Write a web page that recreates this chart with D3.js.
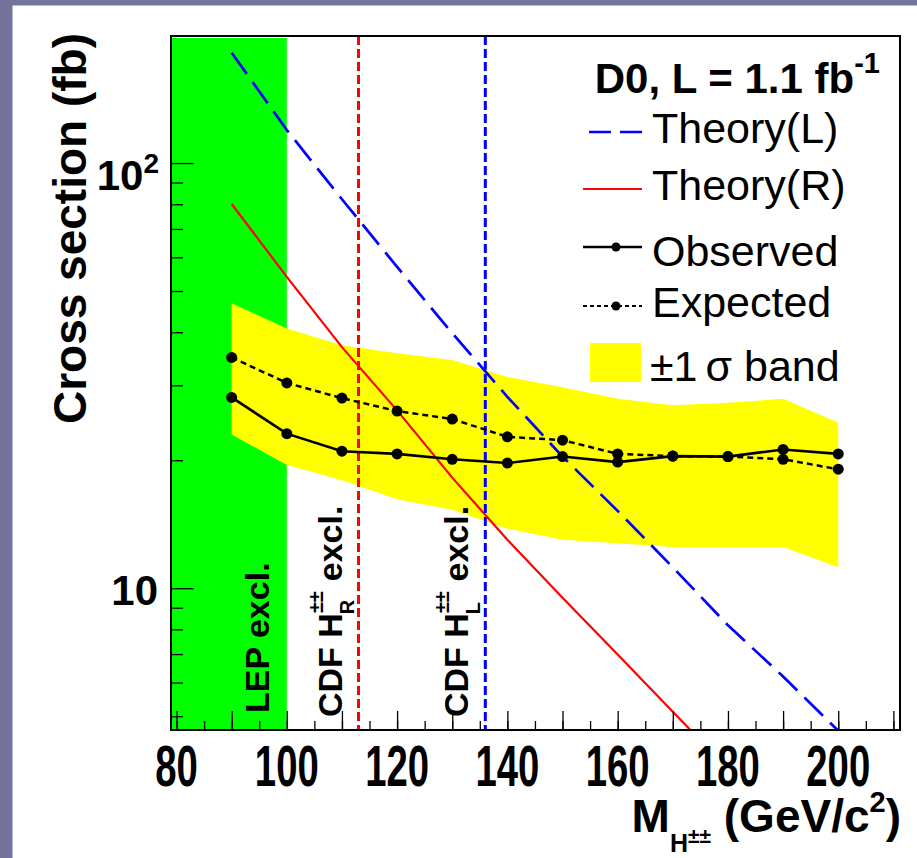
<!DOCTYPE html>
<html>
<head>
<meta charset="utf-8">
<script src="https://cdn.jsdelivr.net/npm/d3@7"></script>
<style>
  body { margin: 0; background: #fff; }
  svg { display: block; font-family: "Liberation Sans", Arial, Helvetica, sans-serif; }
</style>
</head>
<body>
<svg id="chart" width="917" height="858"></svg>
<script>
// mass points (GeV/c^2)
const mass = [90, 100, 110, 120, 130, 140, 150, 160, 170, 180, 190, 200];

// limits (fb)
const observed = [28.1, 23.1, 21.0, 20.7, 20.1, 19.7, 20.4, 19.8, 20.45, 20.4, 21.2, 20.7];
const expected = [34.9, 30.4, 28.0, 26.1, 25.0, 22.7, 22.3, 20.7, 20.45, 20.4, 20.1, 19.05];
const bandUp   = [46.8, 40.8, 37.3, 35.7, 34.4, 31.4, 29.7, 27.9, 26.95, 27.3, 27.9, 24.5];
const bandDown = [23.0, 19.5, 17.95, 16.2, 15.3, 13.8, 13.0, 12.75, 12.5, 12.5, 12.5, 11.2];

// theory curves
const theoryMass = [90, 100, 110, 120, 130, 140, 150, 160, 170, 180, 190, 200];
const theoryL = [181.8, 119.6, 82.2, 57.0, 39.8, 28.2, 20.4, 15.2, 11.2, 8.18, 6.2, 4.62];
const theoryR = [80.1, 54.0, 36.9, 26.2, 18.2, 13.0, 9.5, 6.98, 5.12, 3.76];

// exclusion limits
const lepLimit = 100;
const cdfR = 113;
const cdfL = 136;

// axis ticks
const xLabels = [80, 100, 120, 140, 160, 180, 200];
const xMajor = d3.range(80, 211, 10);
const xMinor = d3.range(80, 211, 5);
const yMajor = [10, 100];
const yMinor = [5, 6, 7, 8, 9, 20, 30, 40, 50, 60, 70, 80, 90];

const svg = d3.select("#chart");

// purple page frame
svg.append("rect").attr("x", 0).attr("y", 0).attr("width", 917).attr("height", 858).attr("fill", "#fff");
svg.append("rect").attr("x", 0).attr("y", 0).attr("width", 12.5).attr("height", 858).attr("fill", "#74739b");
svg.append("rect").attr("x", 0).attr("y", 0).attr("width", 917).attr("height", 5.5).attr("fill", "#74739b");

const frame = { left: 171, right: 900, top: 36, bottom: 730 };

const x = d3.scaleLinear().domain([79, 211.2]).range([frame.left, frame.right]);
const y = d3.scaleLog().domain([4.64, 199]).range([frame.bottom, frame.top]);

svg.append("clipPath").attr("id", "plot-clip")
  .append("rect")
  .attr("x", frame.left).attr("y", frame.top)
  .attr("width", frame.right - frame.left).attr("height", frame.bottom - frame.top);

const plot = svg.append("g").attr("clip-path", "url(#plot-clip)");

// LEP excluded region
plot.append("rect")
  .attr("x", x(79)).attr("y", frame.top + 2)
  .attr("width", x(lepLimit) - x(79)).attr("height", frame.bottom - frame.top - 3)
  .attr("fill", "#00ff00");

// +-1 sigma band
const bandData = mass.map((m, i) => ({ m, lo: bandDown[i], hi: bandUp[i] }));
plot.append("path")
  .datum(bandData)
  .attr("fill", "#ffff00")
  .attr("d", d3.area().x(d => x(d.m)).y0(d => y(d.lo)).y1(d => y(d.hi)));

// theory curves
const theoryLine = d3.line().x(d => x(d[0])).y(d => y(d[1]));
plot.append("path")
  .datum(d3.zip(theoryMass, theoryR))
  .attr("fill", "none").attr("stroke", "#ff0000").attr("stroke-width", 2.2)
  .attr("d", theoryLine);
plot.append("path")
  .datum(d3.zip(theoryMass, theoryL))
  .attr("fill", "none").attr("stroke", "#0000ff").attr("stroke-width", 2.7)
  .attr("stroke-dasharray", "26,10")
  .attr("d", theoryLine);

// CDF limits
[[cdfR, "#ff0000"], [cdfL, "#0000ff"]].forEach(([m, c]) => {
  plot.append("line")
    .attr("x1", x(m)).attr("x2", x(m))
    .attr("y1", frame.top).attr("y2", frame.bottom)
    .attr("stroke", c).attr("stroke-width", 3)
    .attr("stroke-dasharray", "9,4");
});

// expected and observed
const limitLine = d3.line().x(d => x(d[0])).y(d => y(d[1]));
plot.append("path")
  .datum(d3.zip(mass, expected))
  .attr("fill", "none").attr("stroke", "#000").attr("stroke-width", 2.5)
  .attr("stroke-dasharray", "6,4")
  .attr("d", limitLine);
plot.append("path")
  .datum(d3.zip(mass, observed))
  .attr("fill", "none").attr("stroke", "#000").attr("stroke-width", 2.6)
  .attr("d", limitLine);
plot.selectAll(".exp-pt").data(d3.zip(mass, expected)).enter()
  .append("circle").attr("class", "exp-pt")
  .attr("cx", d => x(d[0])).attr("cy", d => y(d[1])).attr("r", 5.5).attr("fill", "#000");
plot.selectAll(".obs-pt").data(d3.zip(mass, observed)).enter()
  .append("circle").attr("class", "obs-pt")
  .attr("cx", d => x(d[0])).attr("cy", d => y(d[1])).attr("r", 5.5).attr("fill", "#000");

// rotated labels in the plot
function vertLabel(px, py, parts) {
  const t = svg.append("text")
    .attr("transform", `translate(${px},${py}) rotate(-90)`)
    .attr("font-size", 34).attr("font-weight", "bold").attr("fill", "#000");
  parts.forEach(p => {
    const s = t.append("tspan").text(p.text);
    if (p.size) s.attr("font-size", p.size);
    if (p.dx) s.attr("dx", p.dx);
    if (p.dy) s.attr("dy", p.dy);
  });
}
vertLabel(269, 713, [{ text: "LEP excl." }]);
vertLabel(342, 717, [
  { text: "CDF H" },
  { text: "±±", size: 20, dy: -19 },
  { text: "R", size: 20, dx: -23, dy: 31 },
  { text: " excl.", dx: 9, dy: -12 }
]);
vertLabel(468, 717, [
  { text: "CDF H" },
  { text: "±±", size: 20, dy: -19 },
  { text: "L", size: 20, dx: -23, dy: 31 },
  { text: " excl.", dx: 11, dy: -12 }
]);

// axes: ticks point inward
const axes = svg.append("g");
axes.append("g").attr("transform", `translate(0,${frame.bottom})`)
  .call(d3.axisBottom(x).tickValues(xMinor).tickSize(-9).tickFormat(""));
axes.append("g").attr("transform", `translate(0,${frame.bottom})`)
  .call(d3.axisBottom(x).tickValues(xMajor).tickSize(-19).tickFormat(""));
axes.append("g").attr("transform", `translate(${frame.left},0)`)
  .call(d3.axisLeft(y).tickValues(yMinor).tickSize(-12).tickFormat(""));
axes.append("g").attr("transform", `translate(${frame.left},0)`)
  .call(d3.axisLeft(y).tickValues(yMajor).tickSize(-23).tickFormat(""));
axes.selectAll(".domain").remove();
axes.selectAll(".tick line").attr("stroke", "#000").attr("stroke-width", 1.3);

// frame
svg.append("rect")
  .attr("x", frame.left).attr("y", frame.top)
  .attr("width", frame.right - frame.left).attr("height", frame.bottom - frame.top)
  .attr("fill", "none").attr("stroke", "#000").attr("stroke-width", 2);

// x tick labels (tall narrow style)
svg.selectAll(".xlab").data(xLabels).enter()
  .append("text").attr("class", "xlab")
  .attr("transform", d => `translate(${x(d)},786) scale(0.66,1)`)
  .attr("text-anchor", "middle")
  .attr("font-size", 58).attr("font-weight", "bold")
  .text(d => d);

// y tick labels
const yl2 = svg.append("text").attr("x", 159).attr("y", 190)
  .attr("text-anchor", "end").attr("font-size", 42).attr("font-weight", "bold");
yl2.append("tspan").text("10");
yl2.append("tspan").attr("font-size", 28).attr("dy", -17).text("2");
svg.append("text").attr("x", 158).attr("y", 605)
  .attr("text-anchor", "end").attr("font-size", 42).attr("font-weight", "bold")
  .text("10");

// axis titles
svg.append("text")
  .attr("transform", "translate(86,33) rotate(-90)")
  .attr("text-anchor", "end").attr("font-size", 46).attr("font-weight", "bold")
  .text("Cross section (fb)");

const xt = svg.append("text").attr("x", 901).attr("y", 832)
  .attr("text-anchor", "end").attr("font-size", 46).attr("font-weight", "bold");
xt.append("tspan").text("M");
xt.append("tspan").attr("font-size", 25).attr("dy", 20).text("H");
xt.append("tspan").attr("font-size", 21).attr("dy", -9).text("±±");
xt.append("tspan").attr("dy", -11).text(" (GeV/c");
xt.append("tspan").attr("font-size", 29).attr("dy", -20).text("2");
xt.append("tspan").attr("dy", 20).text(")");

// legend
const leg = svg.append("g");
const title = leg.append("text").attr("x", 880).attr("y", 93)
  .attr("text-anchor", "end").attr("font-size", 42).attr("font-weight", "bold");
title.append("tspan").text("D0, L = 1.1 fb");
title.append("tspan").attr("font-size", 29).attr("dy", -20).text("-1");

const legX0 = 583, legX1 = 642, legText = 652;
leg.append("line").attr("x1", legX0).attr("x2", legX1).attr("y1", 132).attr("y2", 132)
  .attr("stroke", "#0000ff").attr("stroke-width", 2.5).attr("stroke-dasharray", "22,9")
  .attr("stroke-dashoffset", -6);
leg.append("line").attr("x1", legX0).attr("x2", legX1).attr("y1", 189).attr("y2", 189)
  .attr("stroke", "#ff0000").attr("stroke-width", 2.2);
leg.append("line").attr("x1", legX0).attr("x2", legX1).attr("y1", 247).attr("y2", 247)
  .attr("stroke", "#000").attr("stroke-width", 2.3);
leg.append("circle").attr("cx", 616).attr("cy", 247).attr("r", 4.5).attr("fill", "#000");
leg.append("line").attr("x1", legX0).attr("x2", legX1).attr("y1", 306).attr("y2", 306)
  .attr("stroke", "#000").attr("stroke-width", 2).attr("stroke-dasharray", "4,3");
leg.append("circle").attr("cx", 616).attr("cy", 306).attr("r", 4.5).attr("fill", "#000");
leg.append("rect").attr("x", 590).attr("y", 343).attr("width", 51).attr("height", 39)
  .attr("fill", "#ffff00");

const legLabels = [["Theory(L)", 143], ["Theory(R)", 200], ["Observed", 266], ["Expected", 317]];
legLabels.forEach(([t, by]) => {
  leg.append("text").attr("x", legText).attr("y", by).attr("font-size", 43).text(t);
});
const bandLab = leg.append("text").attr("x", 650).attr("y", 381).attr("font-size", 43);
bandLab.append("tspan").text("±1");
bandLab.append("tspan").attr("dx", 8).text("σ");
bandLab.append("tspan").text(" band");
</script>
</body>
</html>
